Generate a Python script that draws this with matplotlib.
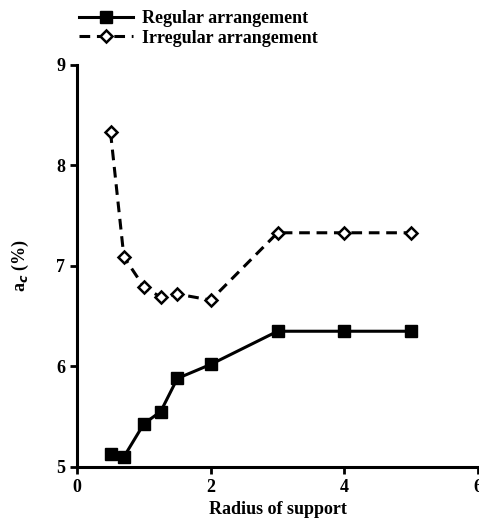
import matplotlib
matplotlib.use('Agg')
from matplotlib import pyplot as plt

# values
radius = [0.5, 0.7, 1.0, 1.25, 1.5, 2.0, 3.0, 4.0, 5.0]
regular = [5.13, 5.10, 5.43, 5.55, 5.88, 6.02, 6.35, 6.35, 6.35]
irregular = [8.33, 7.09, 6.79, 6.69, 6.72, 6.66, 7.33, 7.33, 7.33]

plt.rcParams['font.family'] = ['Liberation Serif', 'DejaVu Serif']
plt.rcParams['font.weight'] = 'bold'
plt.rcParams['axes.labelweight'] = 'bold'

fig = plt.figure(figsize=(4.79, 5.24), dpi=100)
ax = fig.add_axes([0.161, 0.109, 0.837, 0.767])

ax.plot(radius, regular, '-', color='black', lw=2.2, marker='s', ms=9,
        mfc='black', mec='black', label='Regular arrangement', clip_on=False)
ax.plot(radius, irregular, '--', color='black', lw=2.2, marker='D', ms=6.5,
        mfc='white', mec='black', mew=1.8, dashes=(3.5, 2.2),
        label='Irregular arrangement', clip_on=False)

ax.set_xlim(0, 6)
ax.set_ylim(5, 9)
ax.set_xticks([0, 2, 4, 6])
ax.set_yticks([5, 6, 7, 8, 9])
ax.spines['top'].set_visible(False)
ax.spines['right'].set_visible(False)
ax.spines['left'].set_linewidth(2.2)
ax.spines['bottom'].set_linewidth(2.2)
ax.tick_params(width=2, length=5, labelsize=13)
for t in ax.get_xticklabels() + ax.get_yticklabels():
    t.set_fontweight('bold')

ax.set_xlabel('Radius of support', fontsize=13, fontweight='bold')
ax.set_ylabel('a$_c$ (%)', fontsize=13, fontweight='bold', labelpad=18)

fig.legend(loc='upper left', bbox_to_anchor=(0.13, 1.012), frameon=False,
           handlelength=3, handletextpad=0.5, labelspacing=0.15,
           prop={'weight': 'bold', 'size': 13})

fig.savefig('out.png', dpi=100)
